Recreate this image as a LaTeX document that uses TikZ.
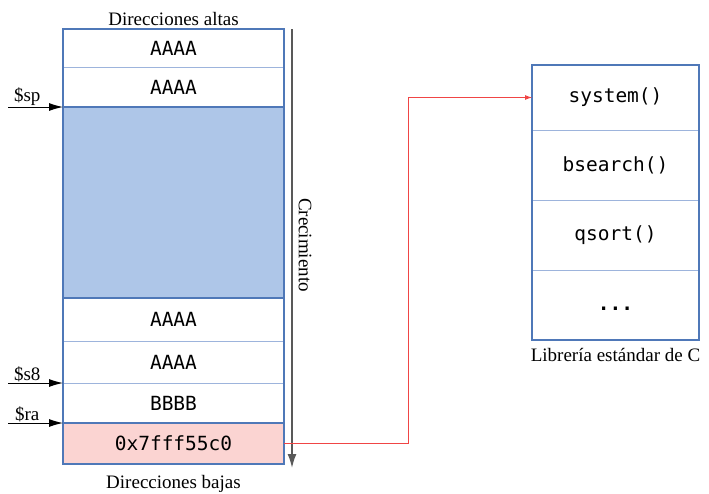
\documentclass[tikz,border=0pt]{standalone}
\usepackage{fontspec}
\setmainfont{Liberation Serif}
\setmonofont{DejaVu Sans Mono}
\usepackage{xcolor}
\usepackage{tikz}
\usetikzlibrary{arrows.meta, positioning, calc}

\definecolor{framecol}{HTML}{4F78B8}
\definecolor{divcol}{HTML}{9DB4DC}
\definecolor{stackblue}{HTML}{AEC6E8}
\definecolor{retpink}{HTML}{FBD4D2}
\definecolor{jumpred}{HTML}{F04545}

\begin{document}
\begin{tikzpicture}[
    x=1pt, y=-1pt,
    node distance=0pt,
    cell/.style={rectangle, draw=divcol, line width=0.9pt, inner sep=0pt, outer sep=0pt, minimum width=221pt, font=\ttfamily\fontsize{19.5}{22}\selectfont},
    libcell/.style={cell, minimum width=167pt},
    frame/.style={draw=framecol, line width=1.1pt},
    caption/.style={font=\fontsize{19}{22}\selectfont, inner sep=1pt},
    pointer/.style={draw=black, line width=1pt, -{Latex[length=14pt, width=8pt]}},
    growth/.style={draw=black!65, line width=1.6pt, -{Latex[length=14pt, width=9pt]}, shorten >=-2pt},
    jump/.style={draw=jumpred, line width=0.9pt, -{Latex[length=7pt, width=5pt]}}
]
    \useasboundingbox (0,0) rectangle (709,493);

    % stack
    \node[cell, minimum height=38pt] (c1) at (173.5,48) {AAAA};
    \node[cell, minimum height=40pt, below=of c1] (c2) {AAAA};
    \node[cell, minimum height=191pt, fill=stackblue, below=of c2] (c3) {};
    \node[cell, minimum height=43pt, below=of c3] (c4) {AAAA};
    \node[cell, minimum height=42pt, below=of c4] (c5) {AAAA};
    \node[cell, minimum height=40pt, below=of c5] (c6) {BBBB};
    \node[cell, minimum height=41pt, fill=retpink, below=of c6] (c7) {0x7fff55c0};
    \draw[frame] (c3.north west) rectangle (c3.south east);
    \draw[frame] (c7.north west) rectangle (c7.south east);
    \draw[frame] (c1.north west) rectangle (c7.south east);

    \node[caption, above=2pt of c1] (high) {Direcciones altas};
    \node[caption, below=10pt of c7] (low) {Direcciones bajas};

    % library
    \node[libcell, minimum height=65pt] (r1) at (615.5,97.5) {system()};
    \node[libcell, minimum height=70pt, below=of r1] (r2) {bsearch()};
    \node[libcell, minimum height=70pt, below=of r2] (r3) {qsort()};
    \node[libcell, minimum height=70pt, below=of r3] (r4) {\raisebox{-11pt}{\bfseries...}};
    \draw[frame] (r1.north west) rectangle (r4.south east);
    \node[caption, below=7pt of r4] (libc) {Librería estándar de C};

    % registers
    \coordinate (spfrom) at (8,107);
    \coordinate (s8from) at (8,383);
    \coordinate (rafrom) at (8,423);
    \draw[pointer] (spfrom) -- node[caption, pos=0.35, above] {\$sp} (c3.north west);
    \draw[pointer] (s8from) -- node[caption, pos=0.35, above] {\$s8} (c6.north west);
    \draw[pointer] (rafrom) -- node[caption, pos=0.35, above] {\$ra} (c7.north west);

    % growth direction
    \coordinate (grtop) at (292,29);
    \coordinate (grbot) at (292,466);
    \draw[growth] (grtop) -- (grbot);
    \node[caption, rotate=-90] (grow) at (305,245) {Crecimiento};

    % return address
    \draw[jump] (c7.east) -- ++(124,0) |- (r1.west);
\end{tikzpicture}
\end{document}
